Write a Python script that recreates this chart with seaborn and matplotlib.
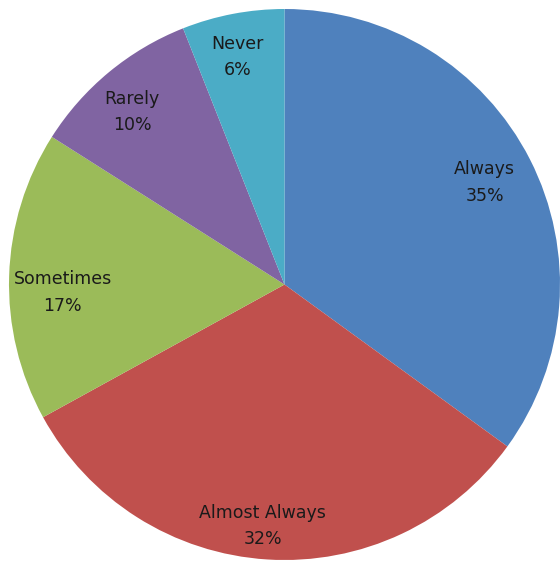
import matplotlib
matplotlib.use('Agg')
import numpy as np
import matplotlib.pyplot as plt
import seaborn as sns

# Datos del gráfico
categorias = ['Always', 'Almost Always', 'Sometimes', 'Rarely', 'Never']
porcentajes = [35, 32, 17, 10, 6]
colores = ['#4F81BD', '#C0504D', '#9BBB59', '#8064A2', '#4BACC6']
# posición de cada etiqueta: distancia (fracción del radio) y giro en grados
dist_etiquetas = [0.815, 0.88, 0.805, 0.835, 0.843]
giro_etiquetas = [0, -1.6, 3.9, 1.9, 0.9]

sns.set_theme(style='white')
plt.rcParams['font.family'] = ['DejaVu Sans']

fig = plt.figure(figsize=(5.6, 5.61), dpi=100)
ax = fig.add_axes([9 / 560, 1 / 561, 551 / 560, 551 / 561])

wedges, _ = ax.pie(
    porcentajes,
    colors=colores,
    startangle=90,
    counterclock=False,
    wedgeprops=dict(linewidth=0),
)

# etiquetas dentro de cada porción
for w, c, p, d, g in zip(wedges, categorias, porcentajes, dist_etiquetas, giro_etiquetas):
    ang = np.deg2rad((w.theta1 + w.theta2) / 2 + g)
    ax.text(d * np.cos(ang), d * np.sin(ang), f'{c}\n{p}%',
            ha='center', va='center', fontsize=12.5, color='#1a1a1a',
            linespacing=1.6)

ax.set_aspect('equal')
ax.set_xlim(-1, 1)
ax.set_ylim(-1, 1)
ax.axis('off')

plt.savefig('out.png', dpi=100)
